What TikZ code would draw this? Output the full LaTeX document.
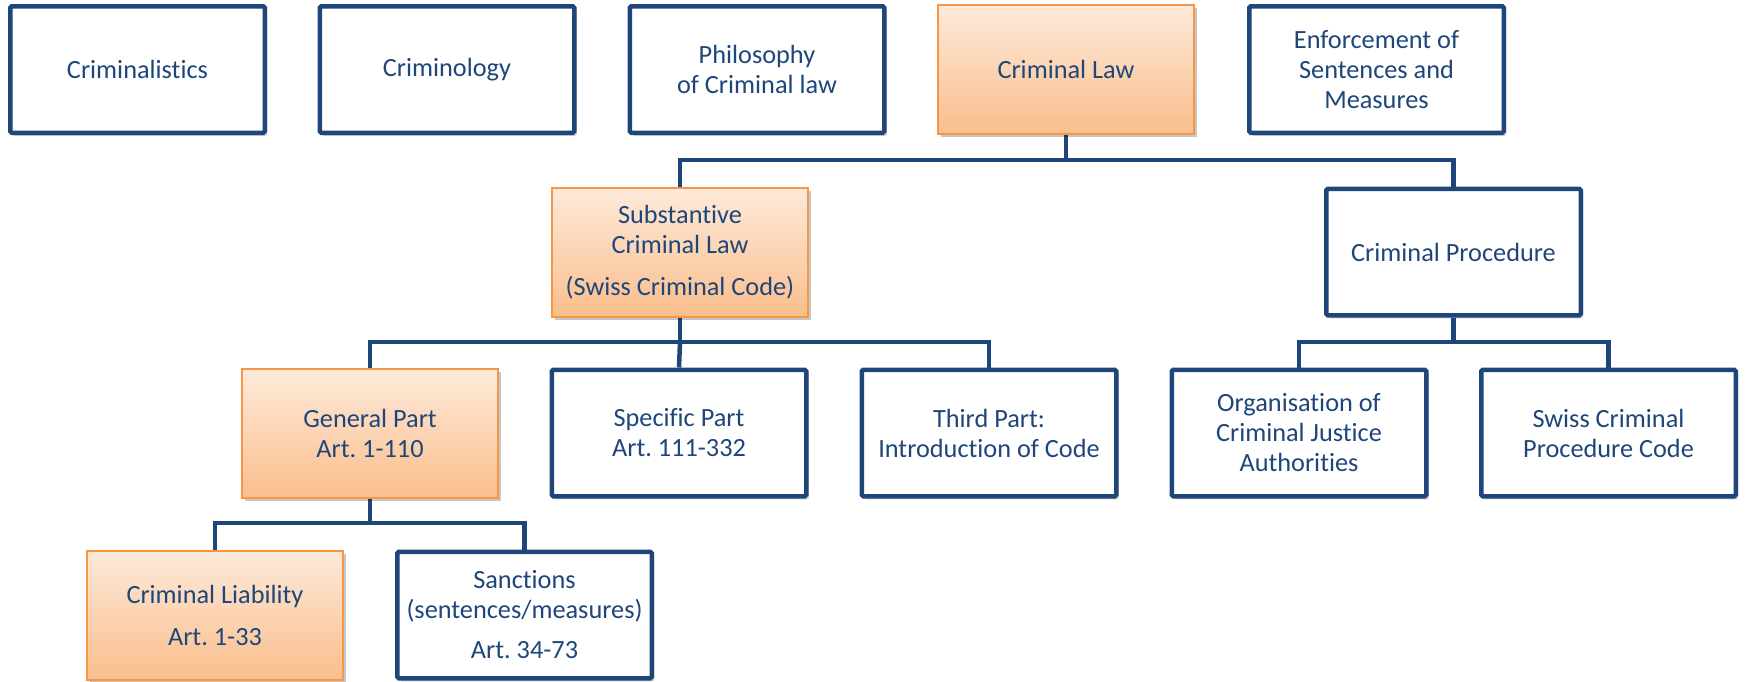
\documentclass[tikz,border=0pt]{standalone}
\usepackage{fontspec}
\setmainfont{Carlito}[Ligatures=NoCommon]
\frenchspacing
\usetikzlibrary{shadows,backgrounds}
\definecolor{dblue}{RGB}{31,70,122}
\definecolor{orTop}{RGB}{253,234,218}
\definecolor{orBot}{RGB}{250,190,140}
\definecolor{orLine}{RGB}{247,150,70}
\tikzset{
  boxtext/.style={font=\fontsize{26.3}{30}\selectfont, text=dblue, align=center, inner sep=0pt},
  bluebox/.style={boxtext, draw=dblue, line width=4.5pt, fill=white, rounded corners=1.5pt,
    minimum width=254.5pt, minimum height=126.5pt,
    drop shadow={shadow xshift=2.5pt, shadow yshift=-3pt, opacity=0.18, fill=black}},
  orbox/.style={boxtext, draw=orLine, line width=2pt, top color=orTop, bottom color=orBot,
    minimum width=256pt, minimum height=129pt,
    drop shadow={shadow xshift=2.5pt, shadow yshift=-3pt, opacity=0.22, fill=black}},
  conn/.style={draw=dblue, line width=4.5pt}
}
\begin{document}
\begin{tikzpicture}[x=1pt, y=-1pt]
\useasboundingbox (0,0) rectangle (1745,681);
% top row
\node[bluebox] (crimtics) at (137.5,69.5) {Criminalistics};
\node[bluebox] (crimgy) at (447,69.5) {Criminology};
\node[bluebox] (philo) at (757,69.5) {Philosophy\\of Criminal law};
\node[orbox] (crimlaw) at (1066,69.5) {Criminal Law};
\node[bluebox] (enforce) at (1376.5,69.5) {Enforcement of\\Sentences and\\Measures};
% row 2
\node[orbox] (subst) at (680,252) {Substantive\\Criminal Law\\[12pt](Swiss Criminal Code)};
\node[bluebox] (proc) at (1453.5,252) {Criminal Procedure};
% row 3
\node[orbox] (gen) at (370,433) {General Part\\Art. 1-110};
\node[bluebox] (spec) at (679,433) {Specific Part\\Art. 111-332};
\node[bluebox] (third) at (989,433) {Third Part:\\Introduction of Code};
\node[bluebox] (org) at (1299,433) {Organisation of\\Criminal Justice\\Authorities};
\node[bluebox] (swiss) at (1608.5,433) {Swiss Criminal\\Procedure Code};
% row 4
\node[orbox] (liab) at (215,615) {Criminal Liability\\[12pt]Art. 1-33};
\node[bluebox] (sanct) at (524.5,615) {Sanctions\\(sentences/measures)\\[10pt]Art. 34-73};
% bus coordinates
\coordinate (b1) at (1066,160);
\coordinate (b2) at (680,342);
\coordinate (b3) at (1453.5,342);
\coordinate (b4) at (370,523);
\begin{scope}[on background layer]
\draw[conn] (crimlaw.south) -- (b1);
\draw[conn] (subst.north) |- (b1) -| (proc.north);
\draw[conn] (subst.south) -- (b2);
\draw[conn] (gen.north) |- (b2) -| (third.north);
\draw[conn] (b2) -- (spec.north);
\draw[conn] (proc.south) -- (b3);
\draw[conn] (org.north) |- (b3) -| (swiss.north);
\draw[conn] (gen.south) -- (b4);
\draw[conn] (liab.north) |- (b4) -| (sanct.north);
\end{scope}
\end{tikzpicture}
\end{document}
